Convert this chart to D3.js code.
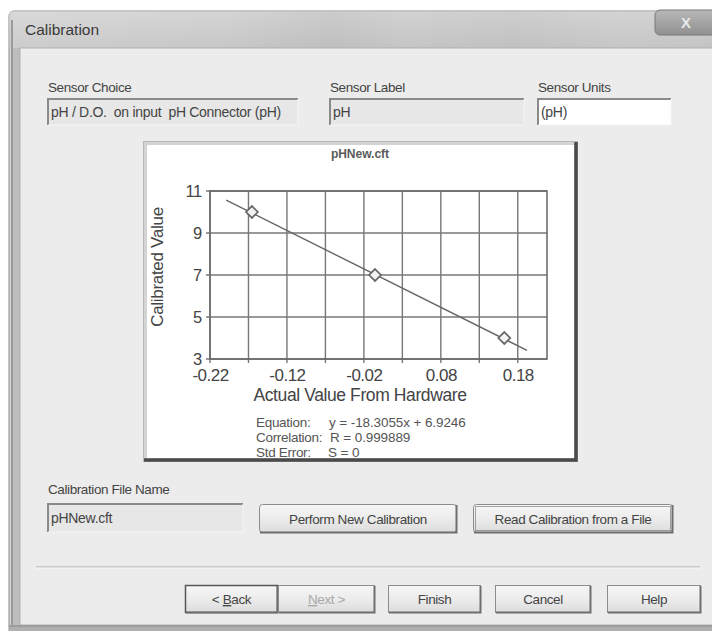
<!DOCTYPE html>
<html><head><meta charset="utf-8">
<script src="https://cdn.jsdelivr.net/npm/d3@7"></script>
<style>
html,body{margin:0;padding:0;background:#fff;}
svg{display:block;}
text{font-family:"Liberation Sans",Arial,sans-serif;}
</style></head>
<body>
<script>
// ---- data ----
const chartTitle = "pHNew.cft";
const xValues = [-0.1655, -0.0055, 0.1625];   // actual value from hardware
const yValues = [10, 7, 4];                    // calibrated value
const xTickLabels = [-0.22, -0.12, -0.02, 0.08, 0.18];
const xGrid = [-0.22, -0.17, -0.12, -0.07, -0.02, 0.03, 0.08, 0.13, 0.18];
const yTickLabels = [3, 5, 7, 9, 11];
const fitSlope = -18.3055;
const fitIntercept = 6.9246;
const fitXRange = [-0.199, 0.192];
const statsLabels = ["Equation:", "Correlation:", "Std Error:"];
const statsValues = ["y = -18.3055x + 6.9246", "R = 0.999889", "S = 0"];

const W = 712, H = 631;
const svg = d3.select("body").append("svg").attr("width", W).attr("height", H);

const defs = svg.append("defs");
const tg = defs.append("linearGradient").attr("id","titleGrad").attr("x1",0).attr("x2",0).attr("y1",0).attr("y2",1);
tg.append("stop").attr("offset","0").attr("stop-color","#dcdcdc");
tg.append("stop").attr("offset","1").attr("stop-color","#c4c4c4");
const cg = defs.append("linearGradient").attr("id","closeGrad").attr("x1",0).attr("x2",0).attr("y1",0).attr("y2",1);
cg.append("stop").attr("offset","0").attr("stop-color","#b8b8b8");
cg.append("stop").attr("offset","1").attr("stop-color","#909090");
const bg = defs.append("linearGradient").attr("id","btnGrad").attr("x1",0).attr("x2",0).attr("y1",0).attr("y2",1);
bg.append("stop").attr("offset","0").attr("stop-color","#f6f6f6");
bg.append("stop").attr("offset","0.5").attr("stop-color","#ececec");
bg.append("stop").attr("offset","1").attr("stop-color","#dcdcdc");
const streak = defs.append("linearGradient").attr("id","streak").attr("x1",0).attr("x2",1);
[[0,"#d6d6d6"],[0.3,"#cbcbcb"],[0.45,"#b8b8b8"],[0.55,"#c6c6c6"],[0.7,"#bdbdbd"],[0.85,"#c9c9c9"],[1,"#c2c2c2"]]
  .forEach(s=>streak.append("stop").attr("offset",s[0]).attr("stop-color",s[1]));

// ---- window frame ----
svg.append("rect").attr("x",9).attr("y",11).attr("width",720).attr("height",640).attr("rx",5)
  .attr("fill","url(#streak)").attr("stroke","#8a8a8a").attr("stroke-width",1);
svg.append("rect").attr("x",9).attr("y",11).attr("width",720).attr("height",37)
  .attr("fill","url(#titleGrad)").attr("opacity",0.55);
svg.append("rect").attr("x",12).attr("y",48).attr("width",8).attr("height",580).attr("fill","#bdbdbd");
svg.append("line").attr("x1",12).attr("x2",12).attr("y1",20).attr("y2",631).attr("stroke","#9a9a9a").attr("stroke-width",2);
svg.append("text").attr("x",25).attr("y",35).attr("font-size",15.5).attr("fill","#3a3a3a").text("Calibration");
// close button
svg.append("rect").attr("x",655).attr("y",10).attr("width",70).attr("height",25).attr("rx",5)
  .attr("fill","url(#closeGrad)").attr("stroke","#7a7a7a");
svg.append("text").attr("x",686).attr("y",28).attr("text-anchor","middle").attr("font-size",15)
  .attr("font-weight","bold").attr("fill","#e8e8e8").text("X");

// client area
svg.append("rect").attr("x",20).attr("y",48).attr("width",700).attr("height",577)
  .attr("fill","#ececec").attr("stroke","#b0b0b0");

// ---- helpers ----
const fs = 13.5;
function label(x, y, t, col) {
  svg.append("text").attr("x",x).attr("y",y).attr("font-size",fs).attr("fill",col||"#444")
    .attr("letter-spacing",-0.4).text(t);
}
function textbox(x, y, w, h, t, white) {
  svg.append("rect").attr("x",x).attr("y",y).attr("width",w).attr("height",h)
    .attr("fill", white ? "#ffffff" : "#e7e7e7");
  svg.append("path").attr("d",`M${x},${y+h} V${y} H${x+w}`).attr("fill","none")
    .attr("stroke","#8a8a8a").attr("stroke-width",2);
  svg.append("path").attr("d",`M${x},${y+h} H${x+w} V${y}`).attr("fill","none")
    .attr("stroke","#f4f4f4").attr("stroke-width",1);
  svg.append("text").attr("x",x+3).attr("y",y+h/2+5).attr("font-size",14).attr("fill","#444")
    .attr("letter-spacing",-0.3).attr("xml:space","preserve").text(t);
}
function button(x, y, w, h, t, opts) {
  opts = opts || {};
  svg.append("rect").attr("x",x+0.5).attr("y",y+0.5).attr("width",w-1).attr("height",h-1).attr("rx",opts.rx||0)
    .attr("fill","url(#btnGrad)").attr("stroke", opts.dark ? "#555" : "#8c8c8c")
    .attr("stroke-width", opts.dark ? 1.5 : 1);
  svg.append("path").attr("d",`M${x+1},${y+h-0.5} H${x+w-0.5} V${y+1}`).attr("fill","none")
    .attr("stroke","#6e6e6e").attr("stroke-width",2);
  if (opts.focus) {
    svg.append("rect").attr("x",x+2.5).attr("y",y+2.5).attr("width",w-5).attr("height",h-5)
      .attr("fill","none").attr("stroke","#555").attr("stroke-dasharray","1,1");
  }
  const tx = svg.append("text").attr("x",x+w/2).attr("y",y+h/2+5).attr("text-anchor","middle")
    .attr("font-size",fs).attr("fill",opts.disabled ? "#a8a8a8" : "#444").attr("letter-spacing",-0.4);
  if (opts.ul !== undefined) {
    tx.append("tspan").text(t.slice(0,opts.ul));
    tx.append("tspan").attr("text-decoration","underline").text(t[opts.ul]);
    tx.append("tspan").text(t.slice(opts.ul+1));
  } else tx.text(t);
}

// ---- top row ----
label(48, 92, "Sensor Choice");
label(330, 92, "Sensor Label");
label(538, 92, "Sensor Units");
textbox(48, 99, 250, 26, "pH / D.O.  on input  pH Connector (pH)");
textbox(330, 99, 194, 26, "pH");
textbox(538, 99, 133, 26, "(pH)", true);

// ---- chart panel ----
const P = {x:143, y:141, w:435, h:321};
svg.append("rect").attr("x",P.x).attr("y",P.y).attr("width",P.w).attr("height",P.h).attr("fill","#b8b8b8");
svg.append("rect").attr("x",P.x+1).attr("y",P.y+1).attr("width",P.w-2).attr("height",P.h-2).attr("fill","#d4d4d4");
svg.append("rect").attr("x",P.x+4).attr("y",P.y+4).attr("width",P.w-8).attr("height",P.h-8).attr("fill","#ffffff");

const chart = svg.append("g");
const clip = defs.append("clipPath").attr("id","panelClip");
clip.append("rect").attr("x",P.x+4).attr("y",P.y+4).attr("width",P.w-8).attr("height",P.h-8);

const plot = {l:210, r:547, t:191, b:359};
const x = d3.scaleLinear().domain([-0.22, 0.218]).range([plot.l, plot.r]);
const y = d3.scaleLinear().domain([3, 11]).range([plot.b, plot.t]);

chart.append("text").attr("x",360).attr("y",158).attr("text-anchor","middle")
  .attr("font-size",12).attr("font-weight","bold").attr("fill","#5a5a5a").text(chartTitle);

// grid
chart.append("g").selectAll("line").data(xGrid).join("line")
  .attr("x1",d=>x(d)).attr("x2",d=>x(d)).attr("y1",plot.t).attr("y2",plot.b+4)
  .attr("stroke","#777").attr("stroke-width",1.4);
chart.append("g").selectAll("line").data(yTickLabels).join("line")
  .attr("x1",plot.l-4).attr("x2",plot.r).attr("y1",d=>y(d)).attr("y2",d=>y(d))
  .attr("stroke","#777").attr("stroke-width",1.4);
chart.append("rect").attr("x",plot.l).attr("y",plot.t).attr("width",plot.r-plot.l).attr("height",plot.b-plot.t)
  .attr("fill","none").attr("stroke","#666").attr("stroke-width",1.5);

// axes via d3
const xAxis = d3.axisBottom(x).tickValues(xTickLabels).tickSize(0).tickPadding(10)
  .tickFormat(d=>d3.format(".2f")(d).replace("−","-"));
const gx = chart.append("g").attr("transform",`translate(0,${plot.b})`).call(xAxis);
gx.select(".domain").remove();
gx.selectAll("text").attr("font-size",17).attr("fill","#444").attr("font-family","'Liberation Sans',Arial,sans-serif")
  .attr("letter-spacing",-0.5);
const yAxis = d3.axisLeft(y).tickValues(yTickLabels).tickSize(0).tickPadding(8);
const gy = chart.append("g").attr("transform",`translate(${plot.l},0)`).call(yAxis);
gy.select(".domain").remove();
gy.selectAll("text").attr("font-size",16.5).attr("fill","#444").attr("font-family","'Liberation Sans',Arial,sans-serif")
  .attr("letter-spacing",-0.3);

// axis titles
chart.append("text").attr("x",360).attr("y",401).attr("text-anchor","middle").attr("font-size",17.5)
  .attr("fill","#444").attr("letter-spacing",-0.4).text("Actual Value From Hardware");
chart.append("text").attr("transform","translate(163,267) rotate(-90)").attr("text-anchor","middle")
  .attr("font-size",17).attr("fill","#444").attr("letter-spacing",-0.3).text("Calibrated Value");

// fit line
chart.append("line").attr("x1",x(fitXRange[0])).attr("y1",y(fitSlope*fitXRange[0]+fitIntercept))
  .attr("x2",x(fitXRange[1])).attr("y2",y(fitSlope*fitXRange[1]+fitIntercept))
  .attr("stroke","#666").attr("stroke-width",1.4);

// points
const pts = xValues.map((v,i)=>({x:v, y:yValues[i]}));
chart.append("g").selectAll("path").data(pts).join("path")
  .attr("d", d3.symbol().type(d3.symbolDiamond2).size(90))
  .attr("transform",d=>`translate(${x(d.x)},${y(d.y)})`)
  .attr("fill","#f2f2f2").attr("stroke","#666").attr("stroke-width",1.7);

// stats
const st = chart.append("g").attr("clip-path","url(#panelClip)");
const statValueX = [329, 330, 328];
statsLabels.forEach((t,i)=>{
  st.append("text").attr("x",256).attr("y",427+i*15).attr("font-size",13.5).attr("fill","#555")
    .attr("letter-spacing",-0.3).text(t);
  st.append("text").attr("x",statValueX[i]).attr("y",427+i*15).attr("font-size",13.5).attr("fill","#555")
    .attr("letter-spacing",-0.1).text(statsValues[i]);
});

// panel bottom/right dark edges
svg.append("path").attr("d",`M${P.x+1},${P.y+P.h-2} H${P.x+P.w-2} V${P.y+1}`).attr("fill","none")
  .attr("stroke","#4a4a4a").attr("stroke-width",3.5);

// ---- middle row ----
label(48, 494, "Calibration File Name");
textbox(48, 504, 195, 28, "pHNew.cft");
button(259, 504, 198, 29, "Perform New Calibration", {rx:3});
button(473, 504, 200, 29, "Read Calibration from a File", {rx:3, focus:true});

// separator
svg.append("line").attr("x1",36).attr("x2",700).attr("y1",567).attr("y2",567).attr("stroke","#a8a8a8");
svg.append("line").attr("x1",36).attr("x2",700).attr("y1",568).attr("y2",568).attr("stroke","#fafafa");

// ---- bottom row ----
button(185, 585, 93, 28, "< Back", {dark:true, ul:2});
button(278, 585, 97, 28, "Next >", {disabled:true, ul:0});
button(388, 585, 93, 28, "Finish");
button(495, 585, 96, 28, "Cancel");
button(607, 585, 94, 28, "Help");

// bottom frame
svg.append("rect").attr("x",9).attr("y",625).attr("width",720).attr("height",6).attr("fill","#b0b0b0");
svg.append("line").attr("x1",9).attr("x2",712).attr("y1",626).attr("y2",626).attr("stroke","#8a8a8a");
</script>
</body></html>
